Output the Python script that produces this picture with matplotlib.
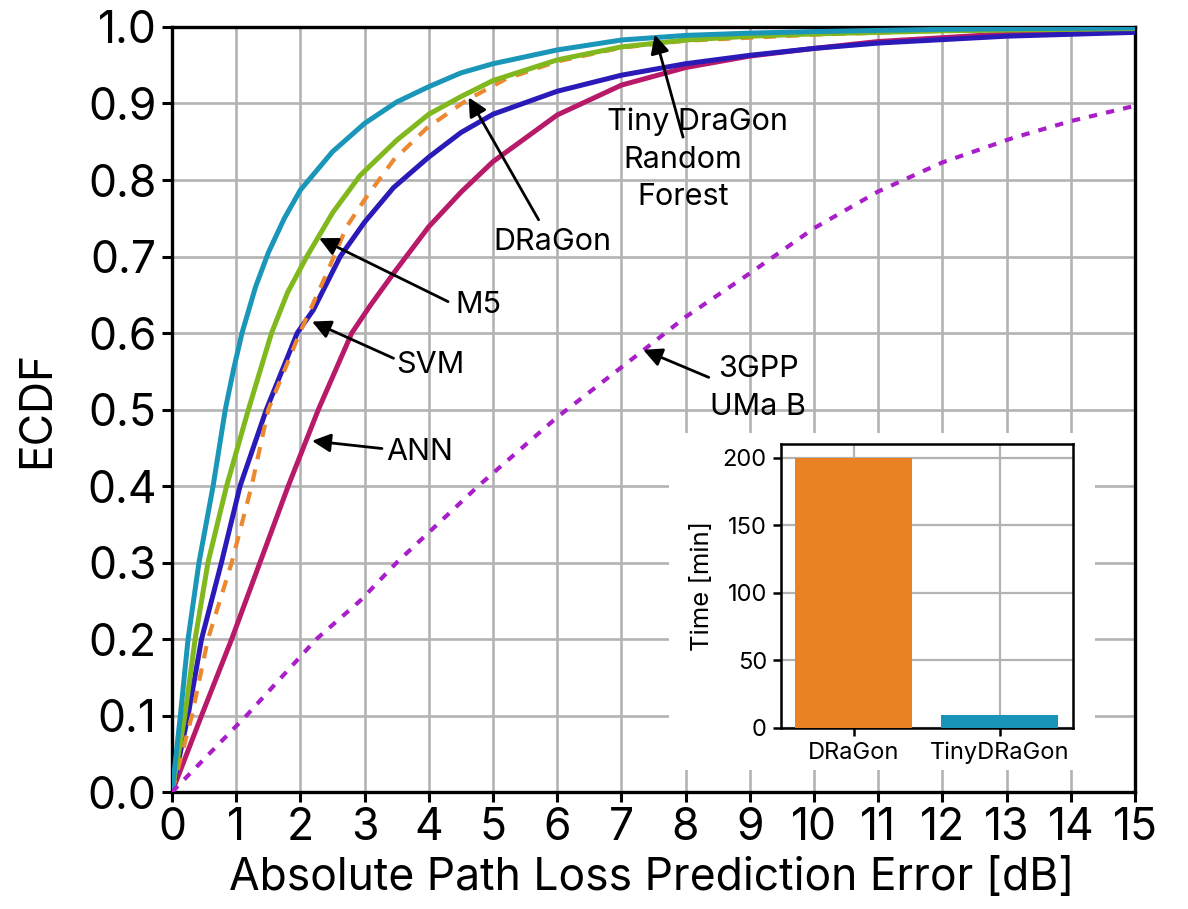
import matplotlib
matplotlib.use('Agg')
import matplotlib.pyplot as plt
from matplotlib.patches import Rectangle

plt.rcParams['font.family'] = ['Inter', 'DejaVu Sans']

# --- dati (errore [dB], ECDF) ---
tiny_x = [0, 0.13, 0.25, 0.42, 0.64, 0.83, 0.96, 1.09, 1.3, 1.5, 1.75, 2.0, 2.5, 3.0, 3.5, 4, 4.5, 5, 6, 7, 8, 9, 10, 12, 15]
tiny_y = [0, 0.1, 0.2, 0.3, 0.4, 0.5, 0.553, 0.6, 0.66, 0.705, 0.75, 0.787, 0.837, 0.874, 0.902, 0.922, 0.94, 0.952, 0.970, 0.983, 0.989, 0.992, 0.994, 0.997, 0.999]

m5_x = [0, 0.2, 0.36, 0.56, 0.85, 1.19, 1.55, 1.8, 2.1, 2.5, 2.93, 3.5, 4, 4.5, 5, 6, 7, 8, 9, 10, 12, 15]
m5_y = [0, 0.1, 0.2, 0.3, 0.4, 0.5, 0.6, 0.653, 0.7, 0.757, 0.806, 0.852, 0.886, 0.909, 0.93, 0.957, 0.974, 0.983, 0.988, 0.991, 0.995, 0.998]

dragon_x = [0, 0.31, 0.56, 0.93, 1.24, 1.5, 1.99, 2.41, 2.72, 3.03, 3.45, 3.97, 4.6, 5.2, 6, 7, 8, 10, 12, 15]
dragon_y = [0, 0.1, 0.2, 0.3, 0.4, 0.5, 0.6, 0.678, 0.739, 0.778, 0.826, 0.868, 0.905, 0.932, 0.955, 0.973, 0.982, 0.990, 0.995, 0.998]

svm_x = [0, 0.25, 0.46, 0.77, 1.06, 1.47, 1.95, 2.2, 2.62, 3.0, 3.45, 4, 4.5, 5, 6, 7, 8, 9, 10, 11, 13, 15]
svm_y = [0, 0.1, 0.2, 0.3, 0.4, 0.5, 0.6, 0.63, 0.70, 0.745, 0.79, 0.83, 0.862, 0.886, 0.916, 0.937, 0.952, 0.963, 0.972, 0.979, 0.988, 0.993]

ann_x = [0, 0.46, 0.93, 1.37, 1.81, 2.28, 2.8, 3.08, 3.45, 4, 4.5, 5, 6, 7, 8, 9, 10, 11, 13, 15]
ann_y = [0, 0.1, 0.2, 0.3, 0.4, 0.5, 0.6, 0.635, 0.678, 0.739, 0.784, 0.824, 0.885, 0.924, 0.947, 0.962, 0.972, 0.981, 0.991, 0.996]

gpp_x = [0, 1.16, 2.25, 2.93, 3.5, 4.77, 6.0, 7.35, 8, 9, 10, 11, 12, 13.1, 14, 15]
gpp_y = [0, 0.1, 0.2, 0.25, 0.3, 0.4, 0.49, 0.578, 0.621, 0.678, 0.737, 0.785, 0.823, 0.855, 0.877, 0.897]

# tempi di addestramento (inset)
modelli = ['DRaGon', 'TinyDRaGon']
tempi = [200, 9.5]

fig = plt.figure(figsize=(11.88, 9.09), dpi=100)
ax = fig.add_axes([0.1448, 0.1287, 0.8106, 0.8416])

ax.plot(ann_x, ann_y, color='#b81a6a', lw=3.6, zorder=3)
ax.plot(svm_x, svm_y, color='#2a1ab8', lw=3.6, zorder=3)
ax.plot(dragon_x, dragon_y, color='#ec8830', lw=3.0, dashes=(3, 2.5), zorder=3)
ax.plot(m5_x, m5_y, color='#80b81e', lw=3.6, zorder=3)
ax.plot(tiny_x, tiny_y, color='#1a96b8', lw=3.6, zorder=3)
ax.plot(gpp_x, gpp_y, color='#a81ec8', lw=3.0, dashes=(2, 2.2), zorder=3)

ax.set_xlim(0, 15)
ax.set_ylim(0, 1)
ax.set_xticks(range(0, 16))
ax.set_yticks([i / 10 for i in range(11)])
ax.set_yticklabels([f'{i / 10:.1f}' for i in range(11)])
ax.tick_params(axis='both', labelsize=32, length=7, width=2.2, pad=4, direction='out')
ax.grid(True, color='#b3b3b3', lw=1.9, zorder=0)
ax.set_axisbelow(True)
for sp in ax.spines.values():
    sp.set_linewidth(2.4)

ax.set_xlabel('Absolute Path Loss Prediction Error [dB]', fontsize=32)
ax.set_ylabel('ECDF', fontsize=32)
ax.xaxis.set_label_coords(0.498, -0.085)
ax.yaxis.set_label_coords(-0.118, 0.5)

# --- frecce e etichette ---
freccia = dict(arrowstyle='-|>', color='black', lw=2.0, mutation_scale=28, shrinkA=0, shrinkB=0)
ax.annotate('', xy=(7.52, 0.99), xytext=(7.96, 0.856), arrowprops=freccia, zorder=4)
ax.annotate('', xy=(4.62, 0.908), xytext=(5.71, 0.748), arrowprops=freccia, zorder=4)
ax.annotate('', xy=(2.29, 0.724), xytext=(4.30, 0.641), arrowprops=freccia, zorder=4)
ax.annotate('', xy=(2.18, 0.615), xytext=(3.45, 0.567), arrowprops=freccia, zorder=4)
ax.annotate('', xy=(2.18, 0.459), xytext=(3.27, 0.449), arrowprops=freccia, zorder=4)
ax.annotate('', xy=(7.34, 0.578), xytext=(8.36, 0.542), arrowprops=freccia, zorder=4)

kw = dict(fontsize=22, ha='center', va='baseline', zorder=5)
ax.text(8.18, 0.865, 'Tiny DraGon', **kw)
ax.text(7.96, 0.816, 'Random', **kw)
ax.text(7.96, 0.767, 'Forest', **kw)
ax.text(5.92, 0.7085, 'DRaGon', **kw)
ax.text(4.77, 0.626, 'M5', **kw)
ax.text(4.02, 0.548, 'SVM', **kw)
ax.text(3.85, 0.434, 'ANN', **kw)
ax.text(9.13, 0.543, '3GPP', **kw)
ax.text(9.13, 0.493, 'UMa B', **kw)

# sfondo bianco dietro l'inset
fig.add_artist(Rectangle((0.5631, 0.1529), 0.3586, 0.3708, transform=fig.transFigure,
                         facecolor='white', edgecolor='none', zorder=1))

ins = fig.add_axes([0.6572, 0.1994, 0.2458, 0.3118])
ins.set_zorder(2)
ins.bar(modelli, tempi, width=0.8, color=['#e88224', '#1a93b8'], zorder=3)
ins.set_ylim(0, 210)
ins.set_xlim(-0.5, 1.5)
ins.set_yticks([0, 50, 100, 150, 200])
ins.grid(True, color='#b3b3b3', lw=1.6, zorder=0)
ins.set_axisbelow(True)
ins.tick_params(axis='both', labelsize=17, length=6, width=1.8, pad=4)
ins.set_ylabel('Time [min]', fontsize=18.5, labelpad=6)
for sp in ins.spines.values():
    sp.set_linewidth(1.8)

plt.savefig('out.png', dpi=100)
plt.close()
